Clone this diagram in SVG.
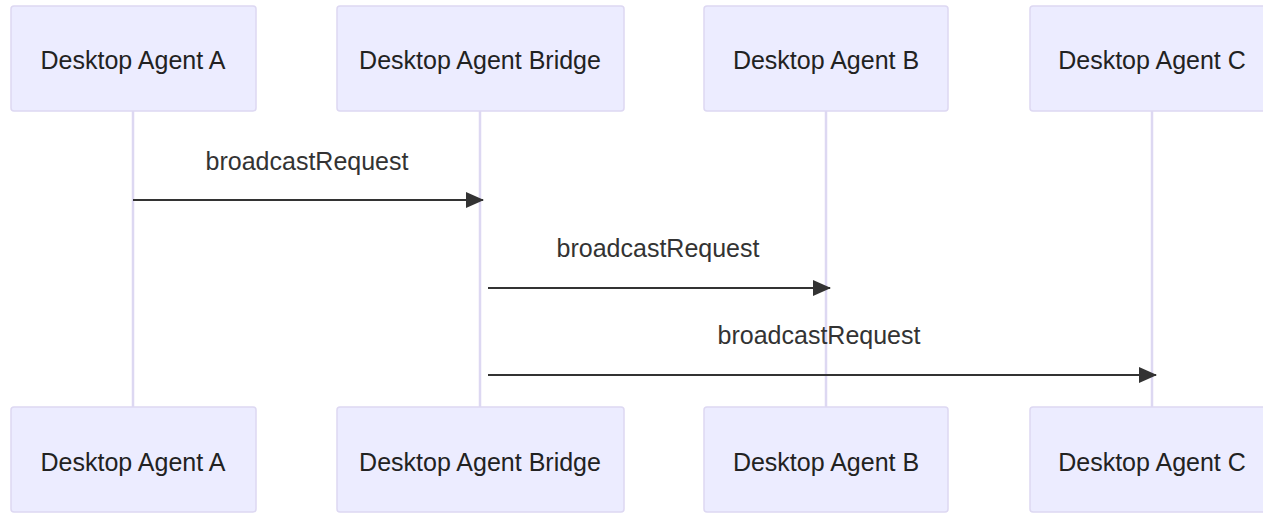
<svg xmlns="http://www.w3.org/2000/svg" width="1263" height="513" viewBox="0 0 1263 513">
<defs>
<style>
.box{fill:#ECECFF;stroke:#ddd8f2;stroke-width:1.5}
.lbl{font-family:"Liberation Sans",Arial,sans-serif;font-size:25px;fill:#222;text-anchor:middle;dominant-baseline:central}
.life{stroke:#ddd8f2;stroke-width:2.5}
.msg{stroke:#333;stroke-width:2;fill:none}
.mtxt{font-family:"Liberation Sans",Arial,sans-serif;font-size:25px;fill:#333;text-anchor:middle}
</style>
<marker id="arr" markerWidth="18" markerHeight="16" refX="17" refY="8" orient="auto" markerUnits="userSpaceOnUse">
<path d="M0,0 L18,8 L0,16 z" fill="#333"/>
</marker>
</defs>
<rect width="1263" height="513" fill="#fff"/>
<g id="lifelines">
<line class="life" x1="133" y1="111" x2="133" y2="407"/>
<line class="life" x1="480" y1="111" x2="480" y2="407"/>
<line class="life" x1="826" y1="111" x2="826" y2="407"/>
<line class="life" x1="1152" y1="111" x2="1152" y2="407"/>
</g>
<g id="agentA-top"><rect class="box" x="11" y="6" width="245" height="105" rx="3"/><text class="lbl" x="133" y="60">Desktop Agent A</text></g>
<g id="bridge-top"><rect class="box" x="337" y="6" width="287" height="105" rx="3"/><text class="lbl" x="480" y="60">Desktop Agent Bridge</text></g>
<g id="agentB-top"><rect class="box" x="704" y="6" width="244" height="105" rx="3"/><text class="lbl" x="826" y="60">Desktop Agent B</text></g>
<g id="agentC-top"><rect class="box" x="1030" y="6" width="245" height="105" rx="3"/><text class="lbl" x="1152" y="60">Desktop Agent C</text></g>
<g id="agentA-bottom"><rect class="box" x="11" y="407" width="245" height="105" rx="3"/><text class="lbl" x="133" y="462">Desktop Agent A</text></g>
<g id="bridge-bottom"><rect class="box" x="337" y="407" width="287" height="105" rx="3"/><text class="lbl" x="480" y="462">Desktop Agent Bridge</text></g>
<g id="agentB-bottom"><rect class="box" x="704" y="407" width="244" height="105" rx="3"/><text class="lbl" x="826" y="462">Desktop Agent B</text></g>
<g id="agentC-bottom"><rect class="box" x="1030" y="407" width="245" height="105" rx="3"/><text class="lbl" x="1152" y="462">Desktop Agent C</text></g>
<g id="connectors">
<line class="msg" x1="133" y1="200" x2="483" y2="200" marker-end="url(#arr)"/>
<text class="mtxt" x="307" y="170">broadcastRequest</text>
<line class="msg" x1="488" y1="288" x2="830" y2="288" marker-end="url(#arr)"/>
<text class="mtxt" x="658" y="257">broadcastRequest</text>
<line class="msg" x1="488" y1="375" x2="1156" y2="375" marker-end="url(#arr)"/>
<text class="mtxt" x="819" y="344">broadcastRequest</text>
</g>
</svg>
